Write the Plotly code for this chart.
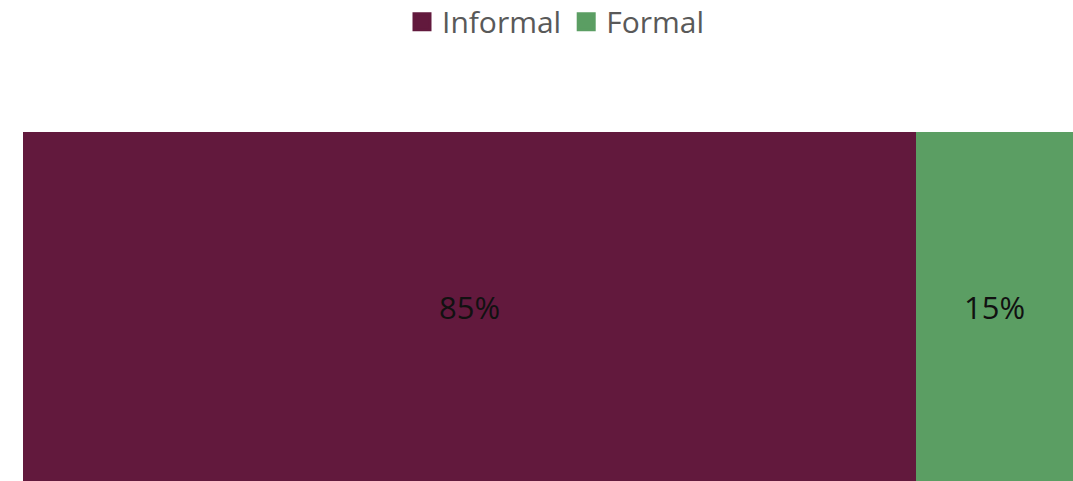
import plotly.graph_objects as go

categories = [""]
series_names = ["Informal", "Formal"]
informal = [0.85]
formal = [0.15]
labels_informal = ["85%"]
labels_formal = ["15%"]
colors = ["#62193D", "#5B9E63"]

FONT = "Open Sans, sans-serif"

fig = go.Figure()
for name, vals, labs, col in [(series_names[0], informal, labels_informal, colors[0]),
                              (series_names[1], formal, labels_formal, colors[1])]:
    fig.add_trace(go.Bar(
        y=categories, x=vals, name=name, orientation="h",
        marker=dict(color=col, line=dict(width=0)),
        text=labs, textposition="inside", insidetextanchor="middle",
        textfont=dict(family=FONT, size=31, color="#111111"),
        hoverinfo="skip", showlegend=False,
    ))

# legend entries with larger square swatches
for name, col in zip(series_names, colors):
    fig.add_trace(go.Scatter(
        x=[None], y=[None], mode="markers", name=name,
        marker=dict(symbol="square", size=16, color=col, line=dict(color=col, width=3)),
        hoverinfo="skip", showlegend=True,
    ))

fig.update_layout(
    barmode="stack", bargap=0,
    width=1073, height=481,
    margin=dict(l=23, r=0, t=132, b=0),
    paper_bgcolor="white", plot_bgcolor="white",
    xaxis=dict(range=[0, 1], visible=False, fixedrange=True),
    yaxis=dict(visible=False, fixedrange=True),
    showlegend=True,
    legend=dict(orientation="h", x=556 / 1073, xanchor="center", xref="container",
                y=0.955, yanchor="middle", yref="container",
                font=dict(family=FONT, size=30, color="#595959"),
                itemwidth=30, traceorder="normal", tracegroupgap=0,
                bgcolor="rgba(0,0,0,0)"),
)

fig.write_html("out.html",
               config={"displayModeBar": False},
               post_script="document.body.style.margin='0';document.body.style.overflow='hidden';")
